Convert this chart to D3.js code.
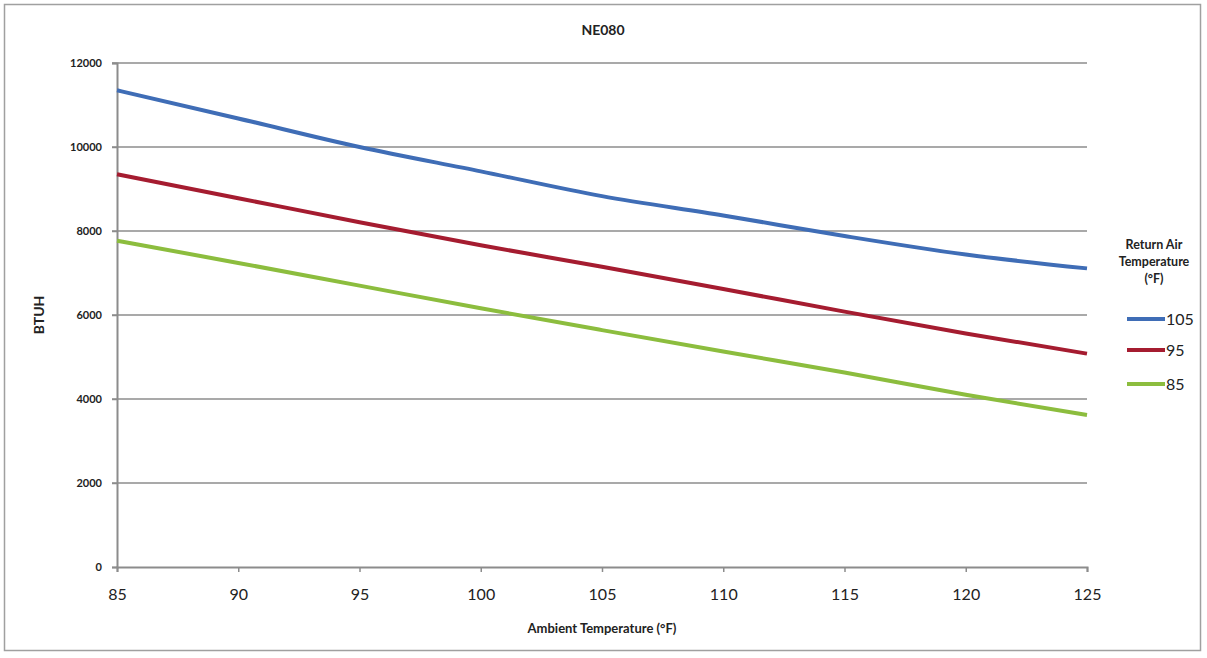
<!DOCTYPE html>
<html>
<head>
<meta charset="utf-8">
<script src="https://cdn.jsdelivr.net/npm/d3@7"></script>
<style>
  body { margin: 0; background: #fff; }
  svg { display: block; }
  text { font-family: Lato, "Open Sans", sans-serif; fill: #222; }
</style>
</head>
<body>
<div class="chart"></div>
<script>
// ambient temperature (°F)
var ambient = [85, 90, 95, 100, 105, 110, 115, 120, 125];
// BTUH per return air temperature
var rat105 = [11350, 10680, 10000, 9420, 8830, 8370, 7880, 7440, 7110];
var rat95  = [9350, 8780, 8210, 7660, 7150, 6620, 6080, 5560, 5080];
var rat85  = [7770, 7240, 6700, 6160, 5640, 5130, 4630, 4100, 3620];
var seriesNames = ["105", "95", "85"];
var yTicks = [0, 2000, 4000, 6000, 8000, 10000, 12000];
var xTicks = [85, 90, 95, 100, 105, 110, 115, 120, 125];

var colors = ["#3f6db6", "#a51c30", "#8cbd3e"];
var allSeries = [rat105, rat95, rat85];

var W = 1207, H = 658;
var margin = {top: 63, right: 120, bottom: 91, left: 117},
    width = 1087 - margin.left,
    height = 567 - margin.top;

var svg = d3.select(".chart").append("svg")
    .attr("width", W)
    .attr("height", H);

// outer frame
svg.append("rect")
    .attr("x", 4.5).attr("y", 4.5)
    .attr("width", 1196).attr("height", 646)
    .attr("fill", "none")
    .attr("stroke", "#a0a0a0")
    .attr("stroke-width", 1.5);

var g = svg.append("g").attr("transform", "translate(" + margin.left + "," + margin.top + ")");

var x = d3.scaleLinear().domain([85, 125]).range([0, width]);
var y = d3.scaleLinear().domain([0, 12000]).range([height, 0]);

// grid
g.append("g").selectAll("line")
    .data(yTicks.filter(d => d > 0))
  .enter().append("line")
    .attr("x1", -5).attr("x2", width)
    .attr("y1", d => y(d)).attr("y2", d => y(d))
    .attr("stroke", "#8c8c8c")
    .attr("stroke-width", 1.5);

var yAxis = d3.axisLeft(y).tickValues(yTicks).tickSize(5).tickPadding(10).tickFormat(d3.format("d"));
var yg = g.append("g").attr("class", "y axis").call(yAxis);
yg.select(".domain").attr("stroke", "#8c8c8c").attr("stroke-width", 2);
yg.selectAll(".tick line").attr("stroke", "#8c8c8c").attr("stroke-width", 1.5);
yg.selectAll("text").style("font-size", "11px").style("font-weight", "bold").attr("fill", "#333");

var xAxis = d3.axisBottom(x).tickValues(xTicks).tickSize(5).tickPadding(17).tickSizeOuter(5);
var xg = g.append("g").attr("class", "x axis")
    .attr("transform", "translate(0," + height + ")")
    .call(xAxis);
xg.select(".domain").attr("stroke", "#8c8c8c").attr("stroke-width", 2);
xg.selectAll(".tick line").attr("stroke", "#8c8c8c").attr("stroke-width", 1.5);
xg.selectAll("text").style("font-size", "16px").attr("fill", "#333");

// lines
var line = d3.line()
    .x((d, i) => x(ambient[i]))
    .y(d => y(d))
    .curve(d3.curveMonotoneX);

g.selectAll(".series")
    .data(allSeries)
  .enter().append("path")
    .attr("class", "series")
    .attr("d", line)
    .attr("fill", "none")
    .attr("stroke", (d, i) => colors[i])
    .attr("stroke-width", 4);

// title & axis labels
svg.append("text")
    .attr("x", 603).attr("y", 35)
    .attr("text-anchor", "middle")
    .style("font-size", "14px").style("font-weight", "bold")
    .text("NE080");

svg.append("text")
    .attr("transform", "translate(44,315) rotate(-90)")
    .attr("text-anchor", "middle")
    .style("font-size", "14px").style("font-weight", "bold")
    .text("BTUH");

svg.append("text")
    .attr("x", 602).attr("y", 633)
    .attr("text-anchor", "middle")
    .style("font-size", "13px").style("font-weight", "bold")
    .text("Ambient Temperature (°F)");

// legend
var lg = svg.append("g");
["Return Air", "Temperature", "(°F)"].forEach(function(t, i) {
  lg.append("text")
    .attr("x", 1154).attr("y", 249 + i * 17)
    .attr("text-anchor", "middle")
    .style("font-size", "12.5px").style("font-weight", "bold")
    .text(t);
});
var legendY = [319, 350, 384];
seriesNames.forEach(function(name, i) {
  lg.append("line")
    .attr("x1", 1127).attr("x2", 1165)
    .attr("y1", legendY[i]).attr("y2", legendY[i])
    .attr("stroke", colors[i]).attr("stroke-width", 4);
  lg.append("text")
    .attr("x", 1166).attr("y", legendY[i] + 6)
    .style("font-size", "16px")
    .attr("fill", "#333")
    .text(name);
});
</script>
</body>
</html>
